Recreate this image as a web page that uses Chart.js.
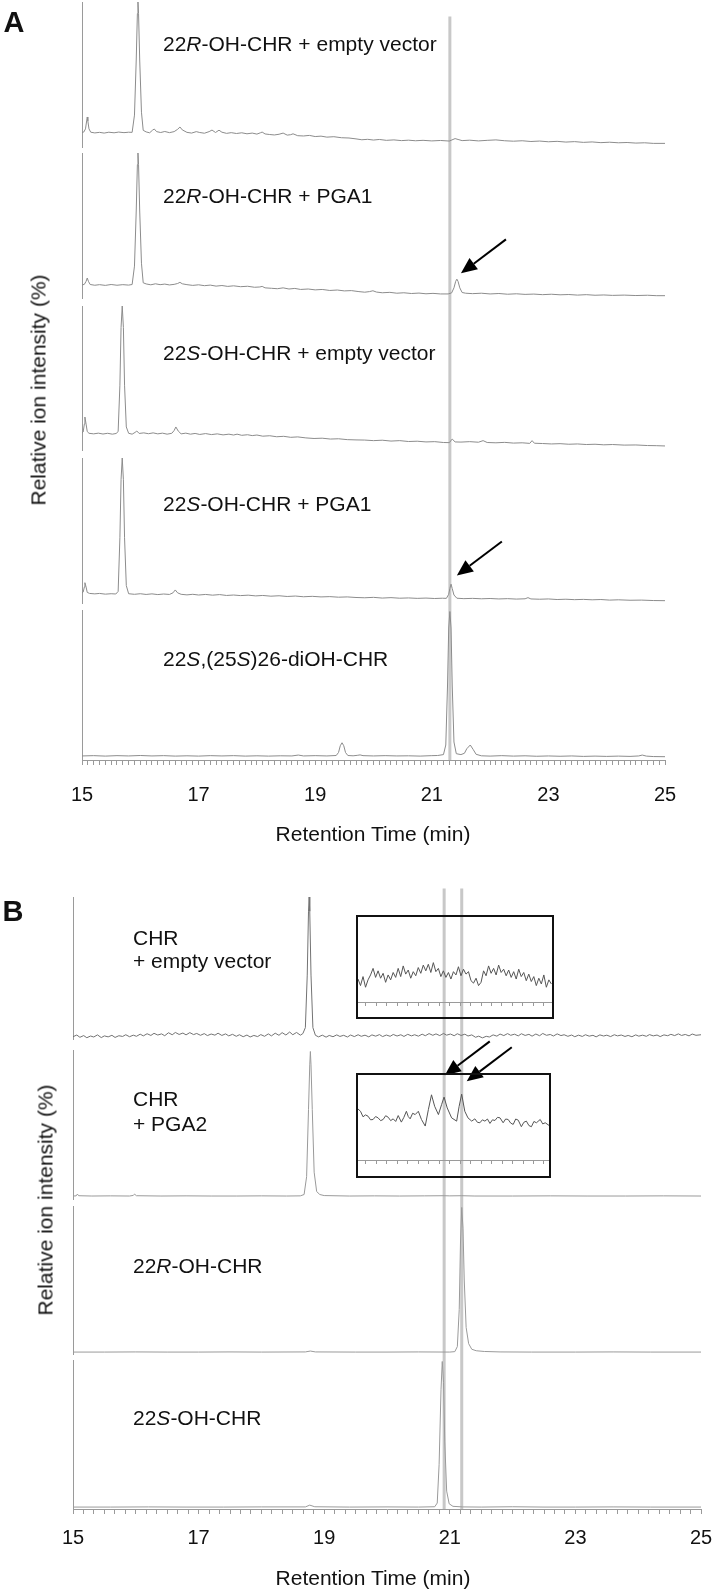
<!DOCTYPE html>
<html>
<head>
<meta charset="utf-8">
<title>GC-MS chromatograms</title>
<script src="https://cdn.jsdelivr.net/npm/chart.js@4.4.1/dist/chart.umd.min.js"></script>
<style>
  html, body { margin: 0; padding: 0; background: #fff; }
  body { position: relative; width: 714px; height: 1591px; overflow: hidden;
         font-family: "Liberation Sans", Arial, sans-serif; color: #111; }
  canvas { display: block; }
  .box { position: absolute; }
  .lbl { position: absolute; font-size: 21px; line-height: 1; white-space: nowrap; transform: translateY(-50%); }
  .panel { position: absolute; font-size: 29px; font-weight: bold; line-height: 1; transform: translate(-50%, -50%); }
  .ytitle { position: absolute; font-size: 21px; line-height: 1; white-space: nowrap; transform: translate(-50%, -50%) rotate(-90deg); }
  .xtitle { position: absolute; font-size: 21px; line-height: 1; white-space: nowrap; transform: translate(-50%, -50%); }
  .inset { position: absolute; border: 2px solid #111; box-sizing: border-box; }
</style>
</head>
<body>
<div class="box" style="left:0;top:0"><canvas id="panelA" width="714" height="860"></canvas></div>
<div class="box" style="left:0;top:880px"><canvas id="panelB" width="714" height="711"></canvas></div>
<div class="inset" style="left:356px;top:915px;width:198px;height:104px"><canvas id="inset1" width="194" height="100"></canvas></div>
<div class="inset" style="left:356px;top:1073px;width:195px;height:105px"><canvas id="inset2" width="191" height="101"></canvas></div>

<div class="panel" style="left:14px;top:22px">A</div>
<div class="panel" style="left:13px;top:911px">B</div>

<div class="lbl" style="left:163px;top:43px">22<i>R</i>-OH-CHR + empty vector</div>
<div class="lbl" style="left:163px;top:195px">22<i>R</i>-OH-CHR + PGA1</div>
<div class="lbl" style="left:163px;top:352px">22<i>S</i>-OH-CHR + empty vector</div>
<div class="lbl" style="left:163px;top:503px">22<i>S</i>-OH-CHR + PGA1</div>
<div class="lbl" style="left:163px;top:658px">22<i>S</i>,(25<i>S</i>)26-diOH-CHR</div>

<div class="lbl" style="left:133px;top:937px">CHR</div>
<div class="lbl" style="left:133px;top:960px">+ empty vector</div>
<div class="lbl" style="left:133px;top:1098px">CHR</div>
<div class="lbl" style="left:133px;top:1123px">+ PGA2</div>
<div class="lbl" style="left:133px;top:1265px">22<i>R</i>-OH-CHR</div>
<div class="lbl" style="left:133px;top:1417px">22<i>S</i>-OH-CHR</div>

<div class="ytitle" style="left:38px;top:390px">Relative ion intensity (%)</div>
<div class="ytitle" style="left:45px;top:1200px">Relative ion intensity (%)</div>
<div class="xtitle" style="left:373px;top:833px">Retention Time (min)</div>
<div class="xtitle" style="left:373px;top:1577px">Retention Time (min)</div>

<script>
// retention time (min) -> signal, in % of each trace's own full scale
const xTickLabels = [15, 17, 19, 21, 23, 25];

const traceA1 = [
  [15.00,10.0],[15.03,10.3],[15.06,12.5],[15.08,18],[15.09,20.7],[15.10,18],[15.12,12.5],[15.15,10.2],[15.22,9.7],[15.30,10.1],
  [15.38,9.6],[15.46,10.2],[15.55,9.8],[15.63,10.3],[15.72,9.9],[15.80,10.2],[15.86,10.1],[15.90,22],[15.93,60],[15.95,92],
  [15.96,100],[15.97,92],[15.99,60],[16.02,24],[16.05,11.5],[16.10,10.4],[16.16,9.8],[16.21,11.6],[16.24,12.4],[16.28,10.6],
  [16.35,10.0],[16.42,10.7],[16.50,9.9],[16.58,10.6],[16.64,12.2],[16.68,13.8],[16.72,11.8],[16.80,10.1],[16.88,9.6],[16.96,10.6],
  [17.02,10.0],[17.10,9.5],[17.18,10.6],[17.23,11.7],[17.29,10.0],[17.35,11.6],[17.40,10.2],[17.48,9.4],[17.56,9.9],[17.65,9.3],
  [17.74,9.8],[17.83,9.1],[17.92,9.6],[18.00,8.9],[18.06,9.8],[18.09,10.3],[18.14,9.0],[18.22,8.6],[18.30,8.3],[18.38,8.8],
  [18.45,9.6],[18.52,8.2],[18.58,8.5],[18.62,9.1],[18.70,7.8],[18.80,7.6],[18.90,8.0],[19.00,7.2],[19.10,7.5],[19.20,6.8],
  [19.32,7.1],[19.45,6.4],[19.58,6.2],[19.70,5.6],[19.80,5.0],[19.90,5.3],[20.00,4.8],[20.10,5.2],[20.22,4.6],[20.35,4.9],
  [20.48,4.4],[20.60,4.7],[20.72,4.3],[20.85,4.6],[21.00,4.2],[21.15,4.5],[21.30,4.1],[21.40,5.8],[21.45,5.2],[21.52,4.4],
  [21.65,4.7],[21.80,4.2],[21.95,4.6],[22.10,4.9],[22.25,4.3],[22.40,4.0],[22.55,4.3],[22.70,3.8],[22.85,4.1],[23.00,3.6],
  [23.15,3.9],[23.30,3.4],[23.45,3.7],[23.60,3.2],[23.75,3.5],[23.90,3.0],[24.05,3.3],[24.20,2.9],[24.35,3.1],[24.50,2.7],
  [24.65,2.9],[24.80,2.5],[25.00,2.5]
];
const traceA2 = [
  [15.00,9.0],[15.04,9.4],[15.07,11.5],[15.09,13.8],[15.11,11.5],[15.14,9.3],[15.22,8.8],[15.30,9.2],[15.40,8.7],[15.50,9.3],
  [15.60,8.8],[15.70,9.2],[15.80,8.9],[15.86,9.3],[15.90,22],[15.93,60],[15.95,92],[15.96,100],[15.97,92],[15.99,60],
  [16.02,24],[16.05,10.5],[16.10,9.7],[16.18,9.1],[16.26,9.8],[16.34,9.2],[16.42,9.6],[16.50,9.0],[16.58,9.4],[16.64,10.0],
  [16.68,10.8],[16.72,9.8],[16.80,9.2],[16.90,8.7],[17.00,9.1],[17.10,8.5],[17.20,8.9],[17.30,8.2],[17.40,8.6],[17.50,8.0],
  [17.60,8.4],[17.72,7.8],[17.84,8.1],[17.96,7.4],[18.05,7.6],[18.09,8.0],[18.14,7.0],[18.25,6.7],[18.35,6.4],[18.45,7.0],
  [18.55,6.2],[18.65,6.6],[18.75,5.9],[18.88,6.2],[19.00,5.6],[19.12,5.9],[19.25,5.2],[19.38,5.5],[19.50,4.9],[19.62,5.1],
  [19.75,4.4],[19.85,4.0],[19.93,4.4],[19.99,5.0],[20.05,4.1],[20.15,3.6],[20.28,3.9],[20.40,3.3],[20.52,3.6],[20.65,3.1],
  [20.78,3.4],[20.90,2.9],[21.02,3.2],[21.15,2.8],[21.28,2.8],[21.34,3.5],[21.38,7],[21.41,11.5],[21.43,13],[21.45,11.5],
  [21.48,7],[21.52,3.8],[21.58,3.3],[21.70,3.0],[21.85,3.3],[22.00,2.8],[22.15,3.1],[22.30,2.6],[22.45,2.9],[22.60,2.5],
  [22.75,2.7],[22.90,2.3],[23.05,2.6],[23.20,2.2],[23.35,2.4],[23.50,2.0],[23.65,2.3],[23.80,1.9],[23.95,2.1],[24.10,1.8],
  [24.30,2.0],[24.50,1.7],[24.70,1.9],[24.85,1.6],[25.00,1.6]
];
const traceA3 = [
  [15.00,11.8],[15.02,12.5],[15.04,18],[15.05,22.9],[15.07,18],[15.09,12.8],[15.12,11.6],[15.20,11.2],[15.28,11.7],[15.36,11.1],
  [15.44,11.6],[15.52,11.0],[15.59,11.5],[15.62,13],[15.65,45],[15.67,85],[15.69,100],[15.71,85],[15.73,45],[15.76,16],
  [15.80,11.6],[15.86,11.0],[15.91,12.2],[15.94,13.2],[15.98,11.5],[16.06,11.9],[16.14,11.3],[16.22,11.9],[16.30,11.2],[16.38,11.7],
  [16.46,11.0],[16.54,11.6],[16.58,13.5],[16.61,16],[16.65,13.2],[16.70,11.2],[16.78,11.7],[16.86,11.0],[16.94,11.5],[17.02,10.8],
  [17.12,11.4],[17.22,10.7],[17.32,11.2],[17.42,10.5],[17.52,11.0],[17.60,10.4],[17.66,11.0],[17.74,10.2],[17.84,10.6],[17.92,10.0],
  [18.00,10.4],[18.10,9.6],[18.22,9.9],[18.34,9.2],[18.46,9.5],[18.58,8.8],[18.70,9.1],[18.84,8.4],[18.98,8.0],[19.12,8.2],
  [19.26,7.6],[19.40,7.8],[19.55,7.2],[19.70,7.0],[19.85,6.9],[20.00,6.5],[20.15,6.8],[20.30,6.2],[20.45,6.5],[20.60,5.9],
  [20.75,6.1],[20.90,5.6],[21.05,5.8],[21.20,5.2],[21.30,5.1],[21.35,7.6],[21.40,5.6],[21.50,5.5],[21.65,5.8],[21.80,5.4],
  [21.88,6.5],[21.95,5.2],[22.10,5.0],[22.25,5.3],[22.40,4.8],[22.55,5.0],[22.68,4.6],[22.72,6.5],[22.76,4.7],[22.90,4.5],
  [23.05,4.2],[23.20,4.4],[23.35,4.0],[23.50,4.2],[23.65,3.8],[23.80,4.0],[23.95,3.6],[24.10,3.8],[24.30,3.4],[24.50,3.5],
  [24.70,3.1],[24.85,3.0],[25.00,2.8]
];
const traceA4 = [
  [15.00,6.9],[15.02,7.5],[15.04,11],[15.05,14],[15.07,11],[15.09,7.3],[15.13,6.6],[15.22,6.3],[15.30,6.6],[15.40,6.1],
  [15.50,6.4],[15.58,6.2],[15.62,8],[15.65,45],[15.67,85],[15.69,100],[15.71,85],[15.73,45],[15.76,12],[15.80,6.4],
  [15.90,6.0],[16.00,6.4],[16.10,5.9],[16.20,6.3],[16.30,5.8],[16.40,6.2],[16.50,5.9],[16.56,7.0],[16.60,9.0],[16.64,7.0],
  [16.70,6.0],[16.80,5.6],[16.90,6.0],[17.00,5.5],[17.12,5.9],[17.24,5.4],[17.36,5.8],[17.48,5.2],[17.60,5.5],[17.72,5.1],
  [17.85,5.4],[17.98,4.9],[18.10,5.2],[18.24,4.7],[18.38,5.0],[18.52,4.5],[18.66,4.8],[18.80,4.3],[18.95,4.6],[19.10,4.2],
  [19.25,4.4],[19.40,4.0],[19.55,4.2],[19.70,3.8],[19.85,3.6],[20.00,3.9],[20.15,3.4],[20.30,3.7],[20.45,3.3],[20.60,3.5],
  [20.75,3.2],[20.90,3.4],[21.05,3.1],[21.18,3.3],[21.25,3.2],[21.29,6],[21.31,10],[21.33,13],[21.35,10],[21.38,5.5],
  [21.43,3.3],[21.55,3.0],[21.70,3.2],[21.85,2.9],[22.00,3.1],[22.15,2.8],[22.30,3.0],[22.45,2.7],[22.60,2.9],[22.65,3.7],
  [22.70,2.8],[22.85,2.6],[23.00,2.8],[23.15,2.4],[23.30,2.6],[23.45,2.3],[23.60,2.5],[23.75,2.2],[23.90,2.4],[24.05,2.0],
  [24.20,2.2],[24.40,1.9],[24.60,2.0],[24.80,1.7],[25.00,1.6]
];
const traceA5 = [
  [15.00,2.7],[15.20,2.9],[15.40,2.6],[15.60,2.9],[15.80,2.7],[16.00,3.0],[16.20,2.7],[16.40,2.9],[16.60,2.6],[16.80,2.8],
  [17.00,2.6],[17.20,2.9],[17.40,2.7],[17.60,2.9],[17.80,2.6],[18.00,2.8],[18.20,2.6],[18.40,2.8],[18.60,2.7],[18.71,3.3],
  [18.80,2.7],[19.00,2.9],[19.20,2.7],[19.36,3.0],[19.40,5],[19.43,9.5],[19.46,11.5],[19.49,9.5],[19.52,5],[19.56,3.0],
  [19.65,2.8],[19.72,3.1],[19.77,3.4],[19.82,2.9],[20.00,2.7],[20.20,2.9],[20.40,2.7],[20.60,2.8],[20.80,2.6],[21.00,2.9],
  [21.10,3.0],[21.20,3.6],[21.24,10],[21.27,50],[21.29,88],[21.31,99],[21.33,88],[21.35,50],[21.38,12],[21.42,4.2],
  [21.50,3.6],[21.56,4.5],[21.60,7.5],[21.66,10],[21.71,7],[21.76,3.8],[21.85,2.8],[22.00,2.6],[22.20,2.9],[22.40,2.6],
  [22.60,2.8],[22.80,2.5],[23.00,2.7],[23.20,2.5],[23.40,2.7],[23.60,2.4],[23.80,2.6],[24.00,2.4],[24.20,2.6],[24.40,2.4],
  [24.55,2.7],[24.61,3.3],[24.68,2.6],[24.80,2.3],[25.00,2.2]
];

const traceB1 = [
  [15.00,1.6],[15.06,2.8],[15.11,1.2],[15.17,2.4],[15.22,0.9],[15.28,2.1],[15.33,1.4],[15.39,2.9],[15.45,1.0],[15.50,2.2],
  [15.56,1.5],[15.62,2.6],[15.67,1.1],[15.73,2.3],[15.79,1.8],[15.84,3.0],[15.90,1.6],[15.96,2.7],[16.01,1.9],[16.07,3.4],
  [16.12,2.2],[16.18,3.7],[16.24,2.5],[16.29,4.0],[16.35,2.8],[16.41,3.6],[16.46,2.3],[16.52,4.4],[16.58,3.0],[16.63,4.6],
  [16.69,3.2],[16.75,4.2],[16.80,2.9],[16.86,4.5],[16.92,3.1],[16.97,3.9],[17.03,2.6],[17.09,3.8],[17.14,2.4],[17.20,3.5],
  [17.26,2.7],[17.31,4.1],[17.37,2.5],[17.43,3.6],[17.48,2.2],[17.54,3.3],[17.60,1.9],[17.65,3.0],[17.71,1.6],[17.77,2.8],
  [17.82,1.4],[17.88,2.5],[17.94,1.7],[17.99,3.1],[18.05,1.9],[18.11,3.6],[18.16,2.2],[18.22,4.1],[18.28,2.6],[18.33,4.5],
  [18.39,2.8],[18.45,4.9],[18.50,3.0],[18.56,4.6],[18.62,2.7],[18.66,3.8],[18.70,8],[18.73,45],[18.75,90],[18.76,100],
  [18.77,90],[18.79,45],[18.82,8],[18.86,2.6],[18.91,1.5],[18.97,2.7],[19.03,1.3],[19.08,2.5],[19.14,1.6],[19.20,2.9],
  [19.25,1.8],[19.31,2.6],[19.37,1.4],[19.42,2.8],[19.48,1.7],[19.54,3.0],[19.59,1.9],[19.65,2.7],[19.71,1.5],[19.76,2.9],
  [19.82,2.0],[19.88,3.1],[19.93,1.7],[19.99,2.8],[20.05,1.9],[20.10,3.2],[20.16,2.1],[20.22,3.0],[20.27,1.8],[20.33,3.3],
  [20.39,2.2],[20.44,3.0],[20.50,2.0],[20.56,3.4],[20.61,2.3],[20.67,3.8],[20.73,2.6],[20.78,3.6],[20.84,2.4],[20.90,3.9],
  [20.95,2.7],[21.01,3.5],[21.07,2.3],[21.12,3.7],[21.18,2.5],[21.24,3.4],[21.29,2.1],[21.35,2.9],[21.41,1.2],[21.46,2.0],
  [21.52,0.8],[21.58,1.9],[21.63,1.4],[21.69,2.9],[21.75,2.0],[21.80,3.5],[21.86,2.4],[21.92,3.8],[21.97,2.6],[22.03,3.4],
  [22.09,2.2],[22.14,3.7],[22.20,2.5],[22.26,3.3],[22.31,2.0],[22.37,3.5],[22.43,2.3],[22.48,3.9],[22.54,2.6],[22.60,3.2],
  [22.65,2.1],[22.71,3.6],[22.77,2.4],[22.82,3.0],[22.88,1.9],[22.94,2.8],[22.99,1.6],[23.05,2.7],[23.11,1.8],[23.16,3.0],
  [23.22,2.0],[23.28,2.6],[23.33,1.5],[23.39,2.9],[23.45,2.1],[23.50,2.7],[23.56,1.7],[23.62,3.0],[23.67,2.2],[23.73,2.8],
  [23.79,1.8],[23.84,2.5],[23.90,1.6],[23.96,2.9],[24.01,2.0],[24.07,2.7],[24.13,1.9],[24.18,3.1],[24.24,2.2],[24.30,2.8],
  [24.35,1.7],[24.41,2.9],[24.47,2.3],[24.52,3.3],[24.58,2.4],[24.64,3.6],[24.69,2.5],[24.75,3.2],[24.81,2.2],[24.86,3.5],
  [24.92,2.6],[25.00,3.0]
];
const traceB2 = [
  [15.00,2.0],[15.05,2.1],[15.07,3.3],[15.09,2.2],[15.30,2.0],[15.60,2.1],[15.90,2.0],[15.96,2.4],[15.98,3.3],[16.01,2.2],
  [16.40,2.0],[16.80,2.1],[17.20,2.0],[17.60,2.0],[18.00,2.1],[18.40,2.0],[18.62,2.1],[18.68,3],[18.72,15],[18.75,60],
  [18.77,90],[18.78,99],[18.79,90],[18.81,60],[18.84,18],[18.88,5],[18.93,3],[19.00,2.3],[19.40,2.0],[19.80,2.1],
  [20.20,2.0],[20.60,2.1],[20.91,2.2],[21.00,2.1],[21.19,2.2],[21.40,2.0],[22.00,2.0],[22.60,2.1],[23.20,2.0],[23.80,2.0],
  [24.40,2.1],[25.00,2.0]
];
const traceB3 = [
  [15.00,1.3],[15.50,1.3],[16.00,1.4],[16.50,1.3],[17.00,1.3],[17.50,1.4],[18.00,1.3],[18.70,1.4],[18.78,2.0],[18.86,1.4],
  [19.50,1.3],[20.00,1.3],[20.50,1.4],[21.00,1.3],[21.08,1.6],[21.12,5],[21.15,30],[21.17,75],[21.19,99],[21.21,85],
  [21.23,50],[21.26,18],[21.30,7],[21.35,3.2],[21.42,2.2],[21.55,1.7],[21.80,1.4],[22.30,1.3],[23.00,1.3],[23.60,1.4],
  [24.20,1.3],[25.00,1.3]
];
const traceB4 = [
  [15.00,1.3],[15.60,1.3],[16.20,1.4],[16.80,1.3],[17.40,1.3],[18.00,1.4],[18.70,1.4],[18.77,2.6],[18.85,1.5],[19.40,1.3],
  [20.00,1.4],[20.50,1.3],[20.76,1.5],[20.80,4],[20.83,30],[20.86,80],[20.88,99],[20.90,85],[20.92,45],[20.95,12],
  [20.99,3.5],[21.05,1.8],[21.20,1.4],[21.50,1.3],[22.00,1.5],[22.50,1.3],[23.00,1.3],[23.60,1.4],[24.20,1.3],[25.00,1.3]
];

// magnified windows (19.5 - 22.6 min) drawn inside the two boxes of panel B
const insetEmpty = [
  [19.54,28],[19.58,20],[19.62,31],[19.66,18],[19.70,27],[19.74,33],[19.78,41],[19.82,30],[19.86,38],[19.90,29],
  [19.94,35],[19.98,24],[20.02,33],[20.06,27],[20.10,36],[20.14,30],[20.18,41],[20.22,31],[20.26,44],[20.30,34],
  [20.34,39],[20.38,29],[20.42,37],[20.46,32],[20.50,42],[20.54,35],[20.58,45],[20.62,38],[20.66,46],[20.70,36],
  [20.74,48],[20.78,37],[20.82,41],[20.86,31],[20.90,38],[20.94,30],[20.98,36],[21.02,28],[21.06,37],[21.10,33],
  [21.14,43],[21.18,32],[21.22,40],[21.26,34],[21.30,37],[21.34,26],[21.38,23],[21.42,29],[21.46,20],[21.50,24],
  [21.54,38],[21.58,32],[21.62,44],[21.66,35],[21.70,41],[21.74,33],[21.78,45],[21.82,36],[21.86,40],[21.90,32],
  [21.94,39],[21.98,30],[22.02,37],[22.06,28],[22.10,40],[22.14,31],[22.18,36],[22.22,26],[22.26,34],[22.30,25],
  [22.34,31],[22.38,20],[22.42,29],[22.46,22],[22.50,33],[22.54,18],[22.58,27],[22.62,22]
];
const insetPGA2 = [
  [19.54,62.2],[19.58,59.4],[19.62,52.7],[19.66,55],[19.70,53.4],[19.74,49],[19.78,49.4],[19.82,53],[19.86,51.4],[19.90,48],
  [19.94,49.4],[19.98,54],[20.02,52.2],[20.06,48],[20.10,50.2],[20.14,47],[20.18,54.2],[20.23,46.2],[20.27,52],[20.31,59.4],
  [20.34,53],[20.37,50.2],[20.41,57],[20.45,55.4],[20.50,59.4],[20.55,49.4],[20.61,41.4],[20.66,61.4],[20.71,79.5],[20.76,65.5],
  [20.82,55.4],[20.87,67.5],[20.91,76.7],[20.96,63.5],[21.03,51.4],[21.11,47.4],[21.15,65.5],[21.19,80.3],[21.24,59.4],[21.29,51.4],
  [21.35,47.4],[21.40,50.2],[21.44,46],[21.48,45.4],[21.52,49],[21.56,47.4],[21.60,50],[21.64,44.6],[21.68,49],[21.72,48.2],
  [21.76,52],[21.80,51.4],[21.85,45.4],[21.89,50],[21.93,49.4],[21.97,45],[22.01,43.4],[22.05,50],[22.09,48.6],[22.14,40.6],
  [22.18,46],[22.22,47.4],[22.26,42],[22.30,40.6],[22.34,47],[22.38,45.4],[22.44,49.4],[22.48,44],[22.52,45.4],[22.58,42.2]
];

// highlighted retention times and arrow tips (time, value on a trace's scale)
const bandsA = [{ time: 21.31, fromAxis: 'a1', fromValue: 90, toAxis: 'a5', toValue: 0 }];
const bandsB = [
  { time: 20.91, fromAxis: 'b1', fromValue: 106, toAxis: 'b4', toValue: 0 },
  { time: 21.19, fromAxis: 'b1', fromValue: 106, toAxis: 'b4', toValue: 0 }
];
const arrowsA = [{ axis: 'a2', time: 21.50, value: 17 }, { axis: 'a4', time: 21.43, value: 19 }];
const arrowsB = [{ axis: 'b2', time: 20.92, value: 83 }, { axis: 'b2', time: 21.27, value: 79 }];

const FONT = '"Liberation Sans", Arial, sans-serif';
const AXIS_GRAY = '#9a9a9a';
const BAND_GRAY = '#c8c8c8';

const toXY = pts => pts.map(([x, y]) => ({ x, y }));

function tickText(v) {
  const n = Math.round(v);
  return Math.abs(v - n) < 1e-3 && xTickLabels.includes(n) ? String(n) : '';
}

function tickValues(min, max, perMin) {
  const out = [];
  for (let k = Math.ceil(min * perMin - 1e-6); k / perMin <= max + 1e-6; k++) out.push(k / perMin);
  return out;
}

function drawArrow(ctx, tx, ty) {
  const fx = tx + 45, fy = ty - 34;
  const ang = Math.atan2(ty - fy, tx - fx);
  const head = 16, half = 7;
  const bx = tx - head * Math.cos(ang), by = ty - head * Math.sin(ang);
  ctx.beginPath(); ctx.moveTo(fx, fy); ctx.lineTo(bx, by); ctx.stroke();
  ctx.beginPath();
  ctx.moveTo(tx, ty);
  ctx.lineTo(bx + half * Math.sin(ang), by - half * Math.cos(ang));
  ctx.lineTo(bx - half * Math.sin(ang), by + half * Math.cos(ang));
  ctx.closePath(); ctx.fill();
}

function markPlugin(bands, arrows) {
  return {
    id: 'marks',
    beforeDatasetsDraw(chart) {
      const { ctx, scales } = chart;
      ctx.save();
      ctx.strokeStyle = BAND_GRAY;
      ctx.lineWidth = 3;
      bands.forEach(b => {
        const px = scales.x.getPixelForValue(b.time);
        ctx.beginPath();
        ctx.moveTo(px, scales[b.fromAxis].getPixelForValue(b.fromValue));
        ctx.lineTo(px, scales[b.toAxis].getPixelForValue(b.toValue));
        ctx.stroke();
      });
      ctx.restore();
    },
    afterDatasetsDraw(chart) {
      const { ctx, scales } = chart;
      ctx.save();
      ctx.strokeStyle = '#000';
      ctx.fillStyle = '#000';
      ctx.lineWidth = 2;
      arrows.forEach(a => drawArrow(ctx, scales.x.getPixelForValue(a.time), scales[a.axis].getPixelForValue(a.value)));
      ctx.restore();
    }
  };
}

function yScale(weight, visible) {
  return {
    type: 'linear', axis: 'y', position: 'left', min: 0, max: 100,
    stack: 'traces', stackWeight: weight,
    grid: { display: false, drawTicks: false },
    ticks: { display: false },
    border: { display: visible, color: AXIS_GRAY, width: 1 },
    afterFit: s => { s.width = 0; }
  };
}

function xScale(perMin, labelPad, axisHeight) {
  const ticks = tickValues(15, 25, perMin);
  return {
    type: 'linear', axis: 'x', position: 'bottom', min: 15, max: 25,
    afterBuildTicks: s => { s.ticks = ticks.map(value => ({ value })); },
    // fixed height, and no extra side padding for the end labels
    afterFit: s => { s.height = axisHeight; s.paddingLeft = 0; s.paddingRight = 0; },
    grid: { display: true, drawOnChartArea: false, drawTicks: true, tickLength: 5, color: AXIS_GRAY, tickColor: AXIS_GRAY },
    border: { display: true, color: AXIS_GRAY, width: 1 },
    ticks: { autoSkip: false, maxRotation: 0, padding: labelPad, color: '#111',
             font: { family: FONT, size: 20 }, callback: v => tickText(v) }
  };
}

function buildPanel(canvasId, rows, x, padding, bands, arrows) {
  const scales = { x };
  // left axes in one stack: the one defined last ends up on top
  for (let i = rows.length - 1; i >= 0; i--) {
    const row = rows[i];
    if (row.gapBelow) scales[row.id + 'gap'] = yScale(row.gapBelow, false);
    scales[row.id] = yScale(row.weight, true);
  }
  new Chart(document.getElementById(canvasId), {
    type: 'line',
    data: {
      datasets: rows.map(row => ({
        data: toXY(row.data), yAxisID: row.id, xAxisID: 'x',
        borderColor: row.color, borderWidth: 1, pointRadius: 0, tension: 0, fill: false
      }))
    },
    options: {
      responsive: false, animation: false, devicePixelRatio: 1, events: [],
      layout: { padding },
      scales,
      plugins: { legend: { display: false }, tooltip: { enabled: false } }
    },
    plugins: [markPlugin(bands, arrows)]
  });
}

function buildInset(canvasId, data, min, max, padTop, axisHeight) {
  const ticks = tickValues(min, max, 6);
  new Chart(document.getElementById(canvasId), {
    type: 'line',
    data: { datasets: [{ data: toXY(data), borderColor: '#555', borderWidth: 1, pointRadius: 0, tension: 0 }] },
    options: {
      responsive: false, animation: false, devicePixelRatio: 1, events: [],
      layout: { padding: { top: padTop, left: 0, right: 0, bottom: 0 } },
      scales: {
        x: {
          type: 'linear', min, max,
          afterBuildTicks: s => { s.ticks = ticks.map(value => ({ value })); },
          afterFit: s => { s.height = axisHeight; },
          grid: { display: true, drawOnChartArea: false, tickLength: 4, color: AXIS_GRAY, tickColor: AXIS_GRAY },
          border: { display: true, color: AXIS_GRAY },
          ticks: { display: false }
        },
        y: { min: 0, max: 100, display: false }
      },
      plugins: { legend: { display: false }, tooltip: { enabled: false } }
    }
  });
}

const grayA = '#8c8c8c';
buildPanel('panelA', [
  { id: 'a1', data: traceA1, weight: 145, gapBelow: 6, color: grayA },
  { id: 'a2', data: traceA2, weight: 145, gapBelow: 8, color: grayA },
  { id: 'a3', data: traceA3, weight: 144, gapBelow: 8, color: grayA },
  { id: 'a4', data: traceA4, weight: 145, gapBelow: 7, color: grayA },
  { id: 'a5', data: traceA5, weight: 150, gapBelow: 0, color: grayA }
], xScale(10, 18, 60), { left: 82, right: 49, top: 2, bottom: 40 }, bandsA, arrowsA);

buildPanel('panelB', [
  { id: 'b1', data: traceB1, weight: 142, gapBelow: 11, color: '#737373' },
  { id: 'b2', data: traceB2, weight: 149, gapBelow: 7, color: '#9a9a9a' },
  { id: 'b3', data: traceB3, weight: 148, gapBelow: 6, color: '#9a9a9a' },
  { id: 'b4', data: traceB4, weight: 149, gapBelow: 0, color: '#9a9a9a' }
], xScale(6, 12, 50), { left: 73, right: 13, top: 17, bottom: 32 }, bandsB, arrowsB);

buildInset('inset1', insetEmpty, 19.54, 22.63, 3, 15);
buildInset('inset2', insetPGA2, 19.54, 22.58, 3, 16);
</script>
</body>
</html>
